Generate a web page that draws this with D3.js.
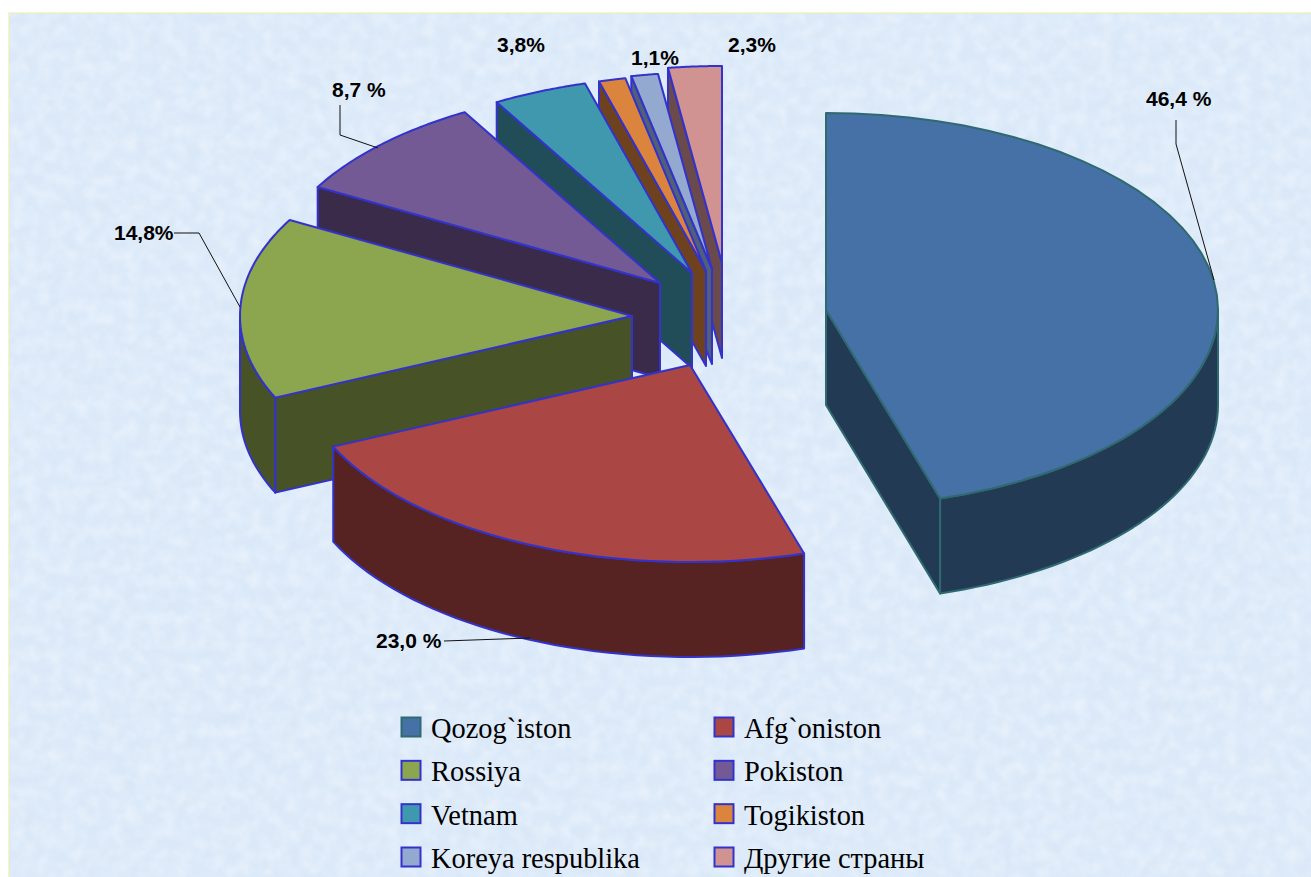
<!DOCTYPE html>
<html><head><meta charset="utf-8">
<script src="https://cdn.jsdelivr.net/npm/d3@7"></script>
<style>html,body{margin:0;padding:0;background:#fff;overflow:hidden}svg{display:block}</style>
</head><body><svg id="c" width="1311" height="877"></svg>
<script>
// data
const categories = ["Qozog`iston","Afg`oniston","Rossiya","Pokiston","Vetnam","Togikiston","Koreya respublika","Другие страны"];
const drawnShares = [45.3,22.9,14.9,8.6,3.9,1.1,1.1,2.2];
const labelTexts = ["46,4 %","23,0 %","14,8%","8,7 %","3,8%",null,"1,1%","2,3%"];
// styling and layout
const topColors = ["#4571a6","#aa4643","#8ba64f","#735a95","#4098ae","#db843d","#93a9cf","#d19392"];
const wallColors = ["#233a55","#562222","#475226","#3a2b4a","#204d58","#6e421f","#4f6078","#6a4a4a"];
const strokeColors = ["#2f6a70","#3333cc","#3333cc","#3333cc","#3333cc","#3333cc","#3333cc","#3333cc"];
const apexX = [826,690,632,660,692,706,712,722];
const apexY = [310,365,316,283,273,271,269,263];
const labelX = [1146,376,114,332,497,0,631,728];
const labelY = [106,648,240,97,52,0,65,52];
const leaders = [
  [[1176,120],[1176,144],[1214,280]],
  [[444,641],[530,638]],
  [[174,233],[199,233],[240,307]],
  [[340,105],[340,135],[378,148]]
];
const RX = 392, RY = 197, DEPTH = 95;

const svg = d3.select("#c");
const defs = svg.append("defs");
const f = defs.append("filter").attr("id","tex").attr("x",0).attr("y",0).attr("width","100%").attr("height","100%");
f.append("feTurbulence").attr("type","fractalNoise").attr("baseFrequency","0.05 0.07").attr("numOctaves",3).attr("seed",7);
f.append("feColorMatrix").attr("type","matrix").attr("values","0 0 0 0 0.66  0 0 0 0 0.74  0 0 0 0 0.84  1.4 0 0 0 -0.5");
f.append("feGaussianBlur").attr("stdDeviation",1.2);
const f2 = defs.append("filter").attr("id","tex2").attr("x",0).attr("y",0).attr("width","100%").attr("height","100%");
f2.append("feTurbulence").attr("type","fractalNoise").attr("baseFrequency","0.08").attr("numOctaves",3).attr("seed",21);
f2.append("feColorMatrix").attr("type","matrix").attr("values","0 0 0 0 0.93  0 0 0 0 0.97  0 0 0 0 1  0 1.5 0 0 -0.55");
f2.append("feGaussianBlur").attr("stdDeviation",1.2);

svg.append("rect").attr("x",8).attr("y",12).attr("width",1303).attr("height",865).attr("fill","#dbe9f9");
svg.append("rect").attr("x",9).attr("y",13).attr("width",1302).attr("height",864).attr("filter","url(#tex)").attr("opacity",0.3);
svg.append("rect").attr("x",9).attr("y",13).attr("width",1302).attr("height",864).attr("filter","url(#tex2)").attr("opacity",0.6);
svg.append("path").attr("d",d3.line()([[8.5,877],[8.5,12.5],[1311,12.5]])).attr("fill","none").attr("stroke","#fdf8a8");

const arcs = d3.pie().value(d=>d).sort(null)(drawnShares);
const rim = (i,t,dz=0)=>[apexX[i]+RX*Math.sin(t), apexY[i]-RY*Math.cos(t)+dz];
const line = d3.line();
const sample = (a,b)=>d3.range(0,41).map(k=>a+(b-a)*k/40);
const PI = Math.PI;

d3.range(arcs.length).reverse().forEach(i=>{
  const a = arcs[i], g = svg.append("g").attr("class","slice");
  const paint = (pts,fill)=>g.append("path").attr("d",line(pts)+"Z").attr("fill",fill)
     .attr("stroke",strokeColors[i]).attr("stroke-width",2).attr("stroke-linejoin","round");
  const apex=[apexX[i],apexY[i]], apexB=[apexX[i],apexY[i]+DEPTH];
  // side faces that look towards the viewer
  if (a.startAngle>PI) paint([apex,rim(i,a.startAngle),rim(i,a.startAngle,DEPTH),apexB],wallColors[i]);
  if (a.endAngle<PI) paint([apex,rim(i,a.endAngle),rim(i,a.endAngle,DEPTH),apexB],wallColors[i]);
  // outer wall: front half of the ellipse only
  const w0=Math.max(a.startAngle,PI/2), w1=Math.min(a.endAngle,3*PI/2);
  if (w1>w0){
    const ts=sample(w0,w1);
    paint(ts.map(t=>rim(i,t)).concat(ts.slice().reverse().map(t=>rim(i,t,DEPTH))),wallColors[i]);
  }
  // top
  paint([apex].concat(sample(a.startAngle,a.endAngle).map(t=>rim(i,t))),topColors[i]);
});

// leader lines
svg.append("g").selectAll("path").data(leaders).join("path").attr("d",d=>line(d))
  .attr("fill","none").attr("stroke","#111").attr("stroke-width",1);
// labels
svg.append("g").selectAll("text").data(labelTexts.map((t,i)=>({t,i})).filter(d=>d.t)).join("text")
  .attr("x",d=>labelX[d.i]).attr("y",d=>labelY[d.i]).text(d=>d.t)
  .attr("font-family","'Liberation Sans',Arial,sans-serif").attr("font-weight","bold").attr("font-size",21).attr("fill","#000");

// legend
const colX = d3.scalePoint().domain([0,1]).range([401,714]);
const rowY = d3.scalePoint().domain([0,1,2,3]).range([717,847]);
const leg = svg.append("g").selectAll("g").data(categories).join("g")
  .attr("transform",(d,i)=>`translate(${colX(i%2)},${rowY(Math.floor(i/2))})`);
leg.append("rect").attr("x",.5).attr("y",.5).attr("width",19).attr("height",19)
  .attr("fill",(d,i)=>topColors[i]).attr("stroke",(d,i)=>strokeColors[i]).attr("stroke-width",2);
leg.append("text").attr("x",30).attr("y",21).text(d=>d)
  .attr("font-family","'Liberation Serif','Times New Roman',serif").attr("font-size",28.4).attr("fill","#000");
</script></body></html>
